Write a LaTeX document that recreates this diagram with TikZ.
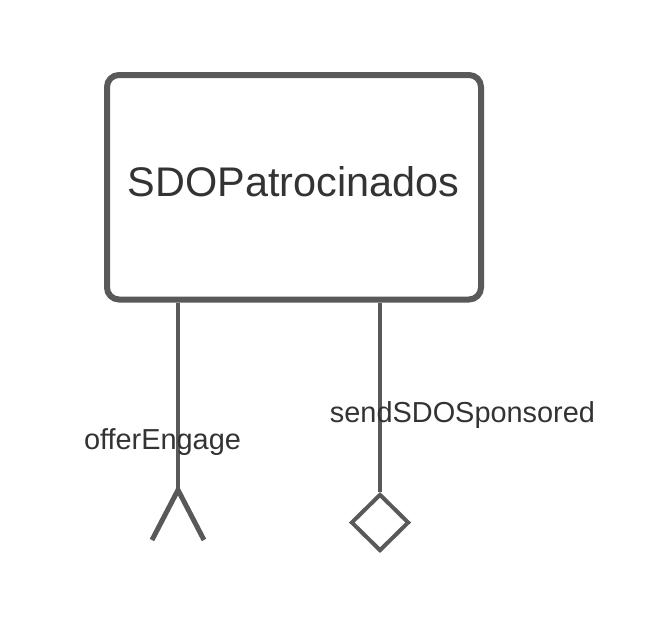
\documentclass[tikz,border=0pt]{standalone}
\usepackage{fontspec}
\setmainfont{Liberation Sans}
\usepackage{tikz}
\usetikzlibrary{shapes.geometric}
\definecolor{linegray}{HTML}{595959}
\definecolor{textgray}{HTML}{333333}
\begin{document}
\begin{tikzpicture}[x=1pt,y=-1pt]
				\tikzstyle{every node}+=[inner sep=0pt]
				\tikzstyle{classbox}=[draw=linegray, line width=6pt, rounded corners=12pt, minimum width=374pt, minimum height=224.5pt]
				\tikzstyle{label}=[text=textgray, font=\fontsize{28.9}{34}\selectfont]
				\useasboundingbox (0,0) rectangle (669,624);
				\node [classbox] (sdo) at (294,187.25) {};
				\node [text=textgray, font=\fontsize{41.4}{48}\selectfont] (title) at (293.5,182) {SDOPatrocinados};
				\coordinate (fork) at (178,490);
				\coordinate (forkl) at (152,540);
				\coordinate (forkr) at (204,540);
				\node [draw=linegray, line width=4pt, diamond, minimum width=58pt, minimum height=57pt] (dia) at (380,522.5) {};
				\draw [linegray, line width=4pt] (fork |- sdo.south) -- (fork);
				\draw [linegray, line width=5pt] (forkl) -- (fork) -- (forkr);
				\draw [linegray, line width=4pt] (dia.north |- sdo.south) -- (dia.north);
				\node [label] (offer) at (162.5,442.5) {offerEngage};
				\node [label] (send) at (462.5,415.5) {sendSDOSponsored};
			\end{tikzpicture}
\end{document}
